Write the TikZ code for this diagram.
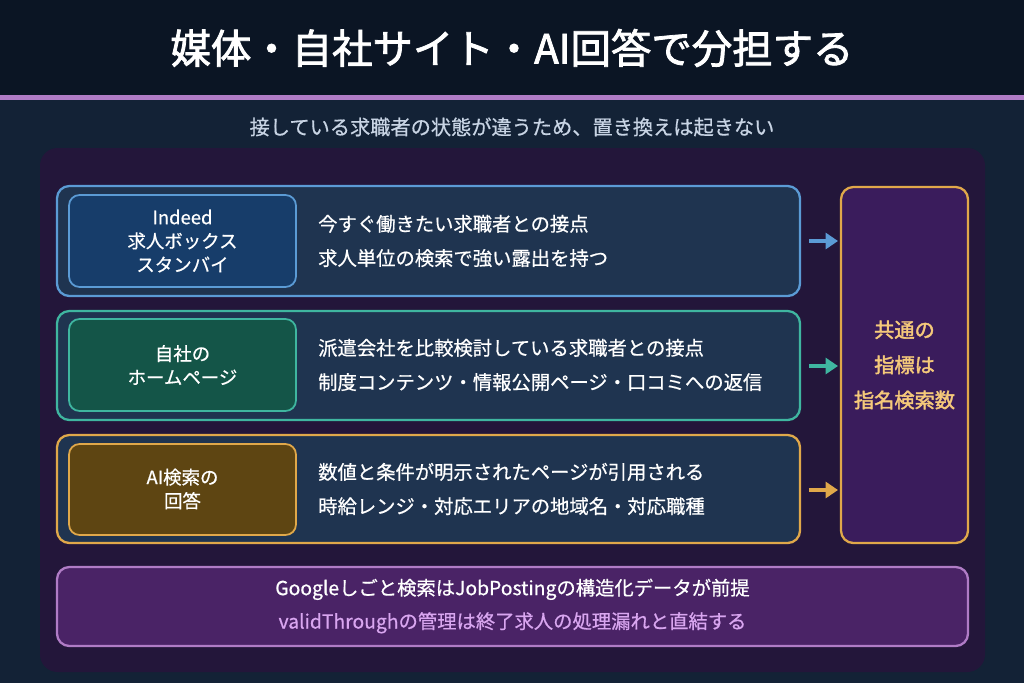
\documentclass[tikz,border=0pt]{standalone}
\usepackage{fontspec}
\setmainfont{Noto Sans CJK JP}
\newfontfamily\jpbold{Noto Sans CJK JP}[FakeBold=2]
\newfontfamily\jpmed{Noto Sans CJK JP}[FakeBold=0.6]
\usetikzlibrary{arrows.meta}
\definecolor{bgdark}{HTML}{0B1524}
\definecolor{bgmid}{HTML}{132236}
\definecolor{lilac}{HTML}{B07CC6}
\definecolor{panel}{HTML}{23163A}
\definecolor{rowfill}{HTML}{1F3450}
\definecolor{cblue}{HTML}{5B9BD5}
\definecolor{cteal}{HTML}{3FB6A0}
\definecolor{cgold}{HTML}{E0A84A}
\definecolor{fblue}{HTML}{173D6A}
\definecolor{fteal}{HTML}{145548}
\definecolor{fgold}{HTML}{5E4512}
\definecolor{fpurple}{HTML}{3A1C5C}
\definecolor{fnote}{HTML}{4A2366}
\definecolor{subtxt}{HTML}{C8D4E4}
\definecolor{goldtxt}{HTML}{F5C97A}
\definecolor{notetxt}{HTML}{D9A6F0}
\tikzset{
  row/.style={draw=#1, line width=1.3pt, rounded corners=7pt, fill=rowfill},
  tag/.style={draw=#1, line width=1pt, rounded corners=6pt},
  body/.style={text=white, font=\jpmed\fontsize{11}{19.5}\selectfont, align=left, anchor=west},
  label/.style={text=white, font=\jpmed\fontsize{10.5}{13.5}\selectfont, align=center},
  flow/.style={draw=#1, line width=2.5pt, -{Triangle[length=7pt,width=9pt]}}
}
\begin{document}
\begin{tikzpicture}[x=0.02cm, y=-0.02cm]
\useasboundingbox (0,0) rectangle (1024,683);
% background
\fill[bgmid] (0,0) rectangle (1024,683);
\fill[bgdark] (0,0) rectangle (1024,95);
\fill[lilac] (0,95) rectangle (1024,100);
\node (title) at (512,48) {\jpbold\color{white}\fontsize{23}{27}\selectfont 媒体・自社サイト・AI回答で分担する};
\node (sub) at (512,127) {\jpmed\color{subtxt}\fontsize{11.5}{13}\selectfont 接している求職者の状態が違うため、置き換えは起きない};
\fill[panel, rounded corners=10pt] (40,148) rectangle (985,672);

% rows
\draw[row=cblue] (57,186) rectangle (800,296);
\draw[tag=cblue, fill=fblue] (69,195) rectangle (296,287);
\node[label] (tag1) at (182.5,241) {Indeed\\求人ボックス\\スタンバイ};
\node[body] (txt1) at (312,241) {今すぐ働きたい求職者との接点\\求人単位の検索で強い露出を持つ};
\coordinate (e1) at (800,241);

\draw[row=cteal] (57,311) rectangle (800,420);
\draw[tag=cteal, fill=fteal] (69,319) rectangle (296,411);
\node[label] (tag2) at (182.5,365) {自社の\\ホームページ};
\node[body] (txt2) at (312,365) {派遣会社を比較検討している求職者との接点\\制度コンテンツ・情報公開ページ・口コミへの返信};
\coordinate (e2) at (800,366);

\draw[row=cgold] (57,435) rectangle (800,543);
\draw[tag=cgold, fill=fgold] (69,444) rectangle (296,535);
\node[label] (tag3) at (182.5,489) {AI検索の\\回答};
\node[body] (txt3) at (312,489) {数値と条件が明示されたページが引用される\\時給レンジ・対応エリアの地域名・対応職種};
\coordinate (e3) at (800,490);

% common metric
\draw[draw=cgold, line width=1.3pt, rounded corners=7pt, fill=fpurple] (841,187) rectangle (968,543);
\node[text=goldtxt, align=center, font=\jpbold\fontsize{11.5}{20}\selectfont] (kpi) at (904.5,365) {共通の\\指標は\\指名検索数};
\coordinate (k1) at (838,241);
\coordinate (k2) at (838,366);
\coordinate (k3) at (838,490);
\draw[flow=cblue] ([xshift=5]e1) -- (k1);
\draw[flow=cteal] ([xshift=5]e2) -- (k2);
\draw[flow=cgold] ([xshift=5]e3) -- (k3);

% note
\draw[draw=lilac, line width=1.3pt, rounded corners=7pt, fill=fnote] (57,567) rectangle (968,646);
\node[align=center, font=\jpmed\fontsize{11}{19}\selectfont] (note) at (512.5,606) {\color{white}Googleしごと検索はJobPostingの構造化データが前提\\\color{notetxt}validThroughの管理は終了求人の処理漏れと直結する};
\end{tikzpicture}
\end{document}
